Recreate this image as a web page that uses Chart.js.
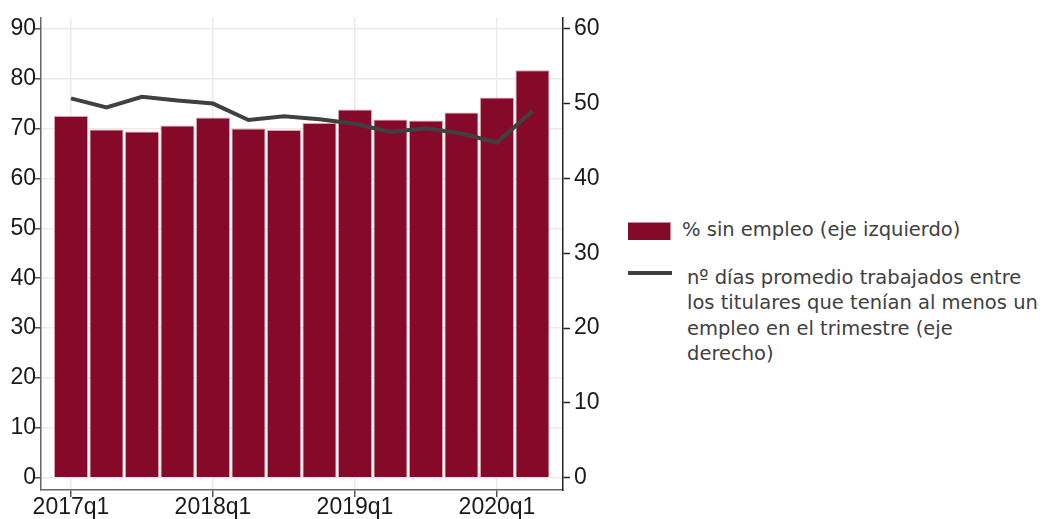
<!DOCTYPE html>
<html>
<head>
<meta charset="utf-8">
<script src="https://cdn.jsdelivr.net/npm/chart.js@4/dist/chart.umd.min.js"></script>
<style>
  html, body { margin: 0; padding: 0; background: #fff; }
  body { width: 1045px; height: 519px; position: relative; overflow: hidden; }
  #wrap { position: absolute; left: 0; top: 0; width: 610px; height: 519px; }
  .leg { position: absolute; font-family: "DejaVu Sans", sans-serif; font-size: 19.5px; color: #404040; line-height: 25.3px; white-space: nowrap; }
  .sw-box { position: absolute; left: 628px; top: 222px; width: 43px; height: 18px; background: #850A2A; border-top: 1px solid #c98b9a; border-right: 1px solid #c98b9a; box-sizing: border-box; }
  .sw-line { position: absolute; left: 628px; top: 271px; width: 44px; height: 4px; background: #404040; }
</style>
</head>
<body>
<div id="wrap"><canvas id="c" width="610" height="519"></canvas></div>
<div class="sw-box"></div>
<div id="leg1" class="leg" style="left:682px; top:217px;"></div>
<div class="sw-line"></div>
<div id="leg2" class="leg" style="left:687px; top:265px;"></div>
<script>
const categories = ['2017q1','2017q2','2017q3','2017q4','2018q1','2018q2','2018q3','2018q4','2019q1','2019q2','2019q3','2019q4','2020q1','2020q2'];
const pctSinEmpleo = [72.5, 69.8, 69.4, 70.6, 72.2, 70.0, 69.7, 71.1, 73.8, 71.8, 71.6, 73.2, 76.2, 81.7];
const diasPromedio = [50.7, 49.5, 50.9, 50.4, 50.0, 47.8, 48.3, 47.9, 47.3, 46.2, 46.7, 46.0, 44.8, 49.0];
const leftTicks = [0, 10, 20, 30, 40, 50, 60, 70, 80, 90];
const rightTicks = [0, 10, 20, 30, 40, 50, 60];
const xTickIndex = [0, 4, 8, 12];
const barLabel = ['% sin empleo (eje izquierdo)'];
const lineLabel = ['nº días promedio trabajados entre', 'los titulares que tenían al menos un', 'empleo en el trimestre (eje', 'derecho)'];

document.getElementById('leg1').innerHTML = barLabel.join('<br>');
document.getElementById('leg2').innerHTML = lineLabel.join('<br>');

const tickFont = { family: 'Liberation Sans', size: 23 };
const tickColor = '#1a1a1a';

new Chart(document.getElementById('c'), {
  type: 'bar',
  data: {
    datasets: [
      {
        type: 'line',
        label: lineLabel.join(' '),
        data: categories.map((c, i) => ({ x: i, y: diasPromedio[i] })),
        yAxisID: 'y1',
        xAxisID: 'x',
        borderColor: '#404040',
        borderWidth: 4,
        pointRadius: 0,
        tension: 0,
        fill: false,
        order: 0
      },
      {
        type: 'bar',
        label: barLabel.join(' '),
        data: categories.map((c, i) => ({ x: i, y: pctSinEmpleo[i] })),
        yAxisID: 'y',
        xAxisID: 'x',
        backgroundColor: '#850A2A',
        borderColor: '#d6a3af',
        borderWidth: 1,
        barPercentage: 0.96,
        categoryPercentage: 1,
        order: 1
      }
    ]
  },
  options: {
    responsive: false,
    devicePixelRatio: 1,
    animation: false,
    layout: { padding: { top: 15, left: 0, right: 0, bottom: 0 } },
    plugins: { legend: { display: false }, tooltip: { enabled: false } },
    scales: {
      x: {
        type: 'linear',
        position: 'bottom',
        min: -0.845,
        max: 13.86,
        offset: false,
        afterBuildTicks: s => { s.ticks = xTickIndex.map(v => ({ value: v })); },
        afterFit: s => { s.height = 29; },
        ticks: {
          callback: v => categories[v],
          font: tickFont, color: tickColor, padding: -3.5,
          maxRotation: 0, autoSkip: false
        },
        grid: { offset: false, color: '#ebebeb', lineWidth: 1.5, tickLength: 7, tickColor: '#555', tickWidth: 1.5 },
        border: { color: '#666', width: 1.5 }
      },
      y: {
        position: 'left',
        min: -2.45,
        max: 92.19,
        afterBuildTicks: s => { s.ticks = leftTicks.map(v => ({ value: v })); },
        afterFit: s => { s.width = 41; },
        ticks: { font: tickFont, color: tickColor, padding: -2 },
        grid: { color: '#ebebeb', lineWidth: 1.5, tickLength: 7, tickColor: '#555', tickWidth: 1.5 },
        border: { color: '#666', width: 1.5 }
      },
      y1: {
        position: 'right',
        min: -1.63,
        max: 61.46,
        afterBuildTicks: s => { s.ticks = rightTicks.map(v => ({ value: v })); },
        afterFit: s => { s.width = 47; },
        ticks: { font: tickFont, color: tickColor, padding: 4 },
        grid: { drawOnChartArea: false, tickLength: 7, tickColor: '#222', tickWidth: 1.5 },
        border: { color: '#222', width: 1.5 }
      }
    }
  }
});
</script>
</body>
</html>
